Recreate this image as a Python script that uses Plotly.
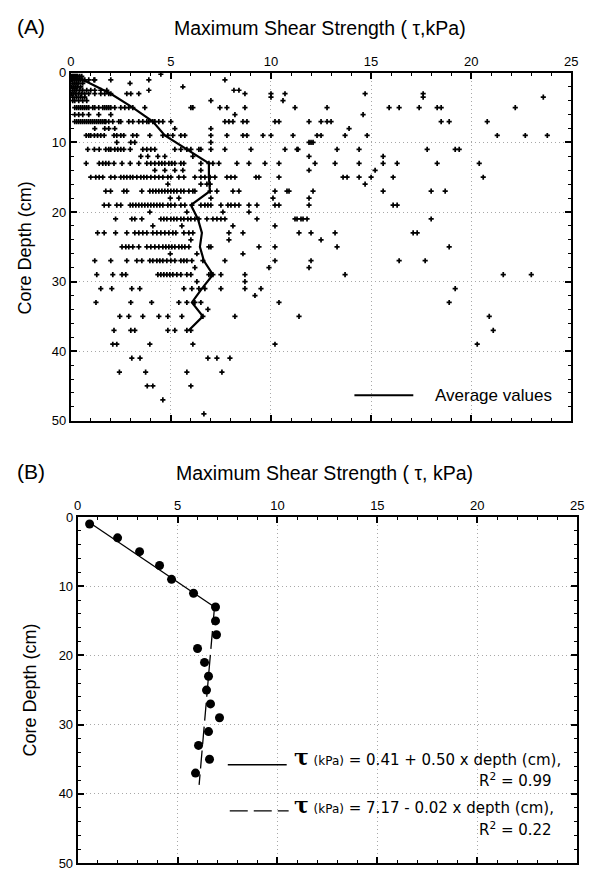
import plotly.graph_objects as go

W, H = 596, 874

# ---------------- Panel A data: individual measurements ----------------
scatter_depths = [0.2, 0.5, 1, 1.5, 2, 2.5, 3, 3.5, 4, 5, 6, 7, 8, 9, 10, 11, 12, 13, 14, 15,
                  16, 17, 18, 19, 20, 21, 22, 23, 24, 25, 26, 27, 28, 29, 30, 31, 32, 33,
                  34, 35, 37, 39, 41, 43, 45, 47, 49]
scatter_taus = [
    [4.5],
    [0.05, 0.1, 0.15, 0.2, 0.25, 0.3, 0.35, 0.45, 0.55],
    [0.05, 0.1, 0.2, 0.3, 0.4, 0.5, 0.6, 0.7, 0.9, 1.16, 1.2, 2.0, 3.9, 7.7],
    [0.1, 0.2, 0.3, 0.4, 0.6, 2.96],
    [0.05, 0.15, 0.25, 0.35, 0.5, 5.6],
    [0.1, 0.2, 0.3, 0.45, 0.6, 0.8, 1.0, 1.2, 1.5, 1.8, 3.9, 8.15, 8.4],
    [0.05, 0.15, 0.25, 0.4, 0.55, 0.7, 0.9, 1.2, 1.5, 1.7, 1.9, 2.0, 2.8, 3.0, 3.4, 8.7, 10.0,
     10.7, 14.7, 17.6],
    [0.1, 0.3, 0.5, 0.7, 10.0, 17.6, 23.6],
    [0.1, 0.2, 0.4, 0.6, 0.8, 7.0, 10.6],
    [0.2, 0.3, 0.4, 0.5, 0.6, 0.7, 0.8, 0.9, 1.1, 1.2, 1.4, 1.6, 1.7, 1.8, 1.9, 2.0, 2.2, 2.5,
     2.7, 2.9, 3.1, 3.7, 6.0, 6.1, 7.45, 7.8, 8.7, 11.2, 12.8, 15.9, 16.4, 17.4, 18.3, 18.5, 22.2],
    [0.2, 0.4, 0.6, 0.9, 1.4, 2.0, 8.2, 14.6],
    [0.2, 0.3, 0.4, 0.5, 0.6, 0.7, 0.8, 0.9, 1.0, 1.1, 1.2, 1.3, 1.4, 1.5, 1.6, 1.7, 1.75, 1.9,
     2.1, 2.4, 2.5, 2.9, 3.1, 3.4, 3.6, 3.8, 3.9, 4.1, 4.2, 4.4, 4.6, 5.0, 7.7, 7.9, 8.1, 8.6,
     8.8, 10.2, 10.4, 11.9, 12.5, 12.8, 13.0, 18.5, 18.9, 20.8],
    [1.2, 1.7, 1.9, 2.2, 5.2, 7.0, 13.9],
    [0.77, 0.9, 1.0, 1.18, 1.34, 1.5, 1.67, 2.16, 2.3, 2.5, 2.65, 3.1, 3.3, 3.95, 4.6, 4.85, 5.1,
     5.5, 5.7, 7.0, 7.8, 8.6, 8.8, 9.6, 10.0, 11.1, 12.3, 12.5, 13.7, 14.8, 21.3, 22.7, 23.8],
    [2.3, 3.0, 3.2, 7.0, 11.9, 12.0, 12.1],
    [0.85, 1.18, 1.42, 1.75, 1.9, 2.0, 2.2, 2.35, 2.5, 2.65, 2.97, 3.6, 3.8, 4.0, 4.2, 5.2, 5.5,
     5.8, 6.0, 6.4, 6.5, 7.0, 7.7, 9.0, 10.7, 11.3, 11.35, 13.3, 14.4, 17.8, 19.2, 19.4],
    [3.5, 3.85, 4.35, 4.7, 6.1, 11.9, 15.6],
    [0.77, 1.42, 1.6, 1.75, 1.9, 2.16, 2.56, 2.97, 3.4, 3.8, 4.0, 4.2, 4.4, 4.55, 4.7, 4.9, 5.05,
     5.2, 5.5, 5.65, 6.5, 6.9, 7.1, 7.4, 8.3, 8.9, 9.7, 10.4, 12.2, 13.2, 14.4, 15.6, 16.3, 18.3,
     20.4],
    [4.2, 4.7, 5.2, 5.6, 6.5, 11.9, 15.2],
    [1.0, 1.25, 1.42, 1.6, 2.0, 2.2, 2.5, 2.65, 2.8, 2.97, 3.1, 3.3, 3.5, 3.65, 3.8, 4.0, 4.2,
     4.4, 4.6, 4.85, 5.0, 5.4, 5.65, 6.2, 6.5, 6.7, 6.96, 7.2, 7.8, 8.0, 8.2, 9.25, 9.4, 10.4,
     13.6, 13.8, 14.4, 15.0, 16.1, 20.6],
    [4.85, 6.5, 6.8, 6.96, 14.7],
    [1.75, 1.99, 2.65, 2.8, 3.55, 3.95, 4.1, 4.25, 4.4, 4.55, 4.7, 4.85, 5.0, 5.15, 5.3, 5.5,
     5.65, 5.9, 6.1, 6.2, 6.96, 7.3, 8.1, 8.4, 10.2, 10.8, 10.9, 12.1, 15.6, 18.0, 18.7],
    [4.97, 5.4, 7.0, 10.1, 11.9],
    [1.67, 1.9, 2.3, 2.5, 2.97, 3.1, 3.25, 3.4, 3.55, 3.7, 3.85, 4.0, 4.15, 4.3, 4.45, 4.6, 4.85,
     5.0, 5.2, 5.5, 5.7, 6.05, 6.5, 6.7, 6.85, 7.0, 7.5, 7.85, 8.0, 8.2, 8.4, 8.9, 9.3, 10.2,
     10.4, 11.9, 16.1, 16.3],
    [3.95, 5.8, 7.6, 8.9],
    [2.24, 3.05, 3.2, 3.55, 4.5, 4.65, 4.8, 5.0, 5.15, 5.3, 5.5, 5.65, 5.85, 6.0, 6.2, 6.4, 6.8,
     7.1, 7.3, 7.5, 7.7, 9.3, 11.2, 11.3, 11.5, 11.6, 11.8, 18.0],
    [4.1, 5.55, 8.1, 10.2],
    [1.34, 1.67, 2.24, 2.8, 3.2, 3.4, 3.6, 3.8, 4.1, 4.3, 4.5, 4.7, 4.9, 5.1, 5.25, 5.65, 5.9,
     6.1, 7.9, 8.6, 11.4, 12.0, 13.2, 17.1, 17.3],
    [6.0, 7.9, 12.5],
    [2.56, 2.75, 2.9, 3.1, 3.4, 3.8, 4.0, 4.2, 4.4, 4.6, 4.75, 4.9, 5.05, 5.2, 5.4, 5.55, 5.7,
     5.9, 6.9, 7.0, 9.4, 10.2, 13.3, 18.9],
    [4.97, 6.3, 8.6],
    [1.2, 2.0, 2.8, 3.3, 3.55, 3.95, 4.1, 4.3, 4.45, 4.6, 4.8, 5.0, 5.2, 5.5, 5.65, 5.8, 6.05,
     6.6, 7.7, 10.2, 12.0, 16.4, 17.7],
    [6.2, 9.9, 11.9],
    [1.3, 2.1, 2.56, 2.75, 4.35, 4.5, 4.65, 4.8, 4.95, 5.1, 5.3, 5.5, 5.8, 6.0, 6.9, 7.0, 7.1,
     7.5, 8.7, 13.7, 21.6, 23.0],
    [6.3, 8.7],
    [1.5, 2.05, 3.05, 3.45, 5.65, 6.05, 6.4, 6.7, 7.5, 8.7, 9.5, 19.2],
    [9.2],
    [1.26, 3.0, 4.04, 5.4, 5.8, 6.2, 6.5, 10.4, 18.9],
    [6.85],
    [2.45, 2.9, 3.6, 4.4, 4.85, 5.55, 6.6, 8.2, 11.4, 20.9],
    [2.16, 3.0, 3.2, 4.85, 5.2, 5.8, 6.0, 21.1],
    [2.1, 2.3, 3.95, 6.1, 10.2, 20.3],
    [3.05, 3.46, 6.85, 7.3, 7.95],
    [2.43, 3.74, 5.8, 7.55],
    [3.82, 4.1, 6.0],
    [4.6],
    [6.65],
]

# ---------------- Average values (used in both panels) ----------------
avg_depth = [1, 3, 5, 7, 9, 11, 13, 15, 17, 19, 21, 23, 25, 27, 29, 31, 33, 35, 37]
avg_tau = [0.6, 2.0, 3.1, 4.1, 4.7, 5.8, 6.9, 6.9, 6.95, 6.0, 6.35, 6.55, 6.45, 6.65, 7.1,
           6.55, 6.05, 6.6, 5.9]

# ---------------- Regression lines (panel B) ----------------
fit1_depth = [1, 13]
fit1_tau = [0.7, 6.85]
fit2_depth = [13, 38.7]
fit2_tau = [6.85, 6.08]

x_ticks = [0, 5, 10, 15, 20, 25]
y_ticks = [0, 10, 20, 30, 40, 50]
title_text = "Maximum Shear Strength ( τ,kPa)"
title_text_b = "Maximum Shear Strength ( τ, kPa)"
ylabel = "Core Depth (cm)"
tau_b = "<span style='font-size:22px;font-family:DejaVu Serif'><b>τ</b></span>"
eq1 = tau_b + " <span style='font-size:12px'>(kPa)</span> = 0.41 + 0.50 x depth (cm),"
eq2 = tau_b + " <span style='font-size:12px'>(kPa)</span> = 7.17 - 0.02 x depth (cm),"
r2_1 = "R<sup>2</sup> = 0.99"
r2_2 = "R<sup>2</sup> = 0.22"


def px(x):
    return x / W


def py(y):
    return 1 - y / H


xs, ys = [], []
for d, row in zip(scatter_depths, scatter_taus):
    for t in row:
        xs.append(t)
        ys.append(d)

fig = go.Figure()
fig.add_trace(go.Scatter(x=xs, y=ys, mode="markers", xaxis="x", yaxis="y",
                         marker=dict(symbol="cross", size=4.3, color="black",
                                     line=dict(width=0)),
                         showlegend=False, hoverinfo="skip"))
fig.add_trace(go.Scatter(x=avg_tau, y=avg_depth, mode="lines", xaxis="x", yaxis="y",
                         line=dict(color="black", width=2.2), showlegend=False))

fig.add_trace(go.Scatter(x=fit1_tau, y=fit1_depth, mode="lines", xaxis="x2", yaxis="y2",
                         line=dict(color="black", width=1.3), showlegend=False))
fig.add_trace(go.Scatter(x=fit2_tau, y=fit2_depth, mode="lines", xaxis="x2", yaxis="y2",
                         line=dict(color="black", width=1.3, dash="18px,6px"),
                         showlegend=False))
fig.add_trace(go.Scatter(x=avg_tau, y=avg_depth, mode="markers", xaxis="x2", yaxis="y2",
                         marker=dict(symbol="circle", size=9, color="black"),
                         showlegend=False))

tick_font = dict(family="Liberation Sans, Arial", size=13, color="black")
common_x = dict(range=[0, 25], tickvals=x_ticks, side="top", ticks="inside", ticklen=6,
                tickwidth=1.5, tickcolor="black", showline=True, linecolor="black",
                linewidth=1.8, mirror="allticks", showgrid=True, gridcolor="#a8a8a8",
                griddash="1px,3px", gridwidth=1, zeroline=False, tickfont=tick_font,
                minor=dict(dtick=1, ticks="inside", ticklen=3, tickwidth=1,
                           tickcolor="black", showgrid=False))
common_y = dict(range=[50, 0], tickvals=y_ticks, ticks="inside", ticklen=6,
                tickwidth=1.5, tickcolor="black", showline=True, linecolor="black",
                linewidth=1.8, mirror="allticks", showgrid=True, gridcolor="#a8a8a8",
                griddash="1px,3px", gridwidth=1, zeroline=False, tickfont=tick_font,
                minor=dict(dtick=2, ticks="inside", ticklen=3, tickwidth=1,
                           tickcolor="black", showgrid=False))

fig.update_layout(
    width=W, height=H, margin=dict(l=0, r=0, t=0, b=0),
    paper_bgcolor="white", plot_bgcolor="white",
    font=dict(family="Liberation Sans, Arial", color="black"),
    xaxis=dict(domain=[px(68), px(578)], anchor="y", **common_x),
    yaxis=dict(domain=[py(421), py(67)], anchor="x", **common_y),
    xaxis2=dict(domain=[px(75), px(584)], anchor="y2", **common_x),
    yaxis2=dict(domain=[py(871), py(519)], anchor="x2", **common_y),
    showlegend=False,
)


def note(x, y, text, size, xanchor="left", angle=0, family=None):
    f = dict(size=size, color="black")
    if family:
        f["family"] = family
    return dict(x=px(x), y=py(y), xref="paper", yref="paper", text=text, showarrow=False,
                xanchor=xanchor, yanchor="middle", textangle=angle, font=f)


ann = [
    note(11, 20, "(A)", 21),
    note(322, 21, title_text, 19.5, "center"),
    note(11, 473, "(B)", 21),
    note(327, 474, title_text_b, 19.5, "center"),
    note(21, 245, ylabel, 18, "center", -90),
    note(27, 695, ylabel, 18, "center", -90),
    note(437, 395, "Average values", 17),
    note(293, 763, eq1, 15, "left", 0, "DejaVu Sans"),
    note(560, 787, r2_1, 15, "right", 0, "DejaVu Sans"),
    note(293, 812, eq2, 15, "left", 0, "DejaVu Sans"),
    note(560, 836, r2_2, 15, "right", 0, "DejaVu Sans"),
]
fig.update_layout(annotations=ann)

shapes = [
    dict(type="line", xref="paper", yref="paper", x0=px(357), x1=px(417), y0=py(395),
         y1=py(395), line=dict(color="black", width=2)),
    dict(type="line", xref="paper", yref="paper", x0=px(228), x1=px(288), y0=py(771),
         y1=py(771), line=dict(color="black", width=1.3)),
    dict(type="line", xref="paper", yref="paper", x0=px(230), x1=px(290), y0=py(818),
         y1=py(818), line=dict(color="black", width=1.3, dash="18px,6px")),
]
fig.update_layout(shapes=shapes)

fig.write_html("out.html", config={"displayModeBar": False},
               post_script="document.body.style.margin='0';"
                           "document.body.style.overflow='hidden';")
